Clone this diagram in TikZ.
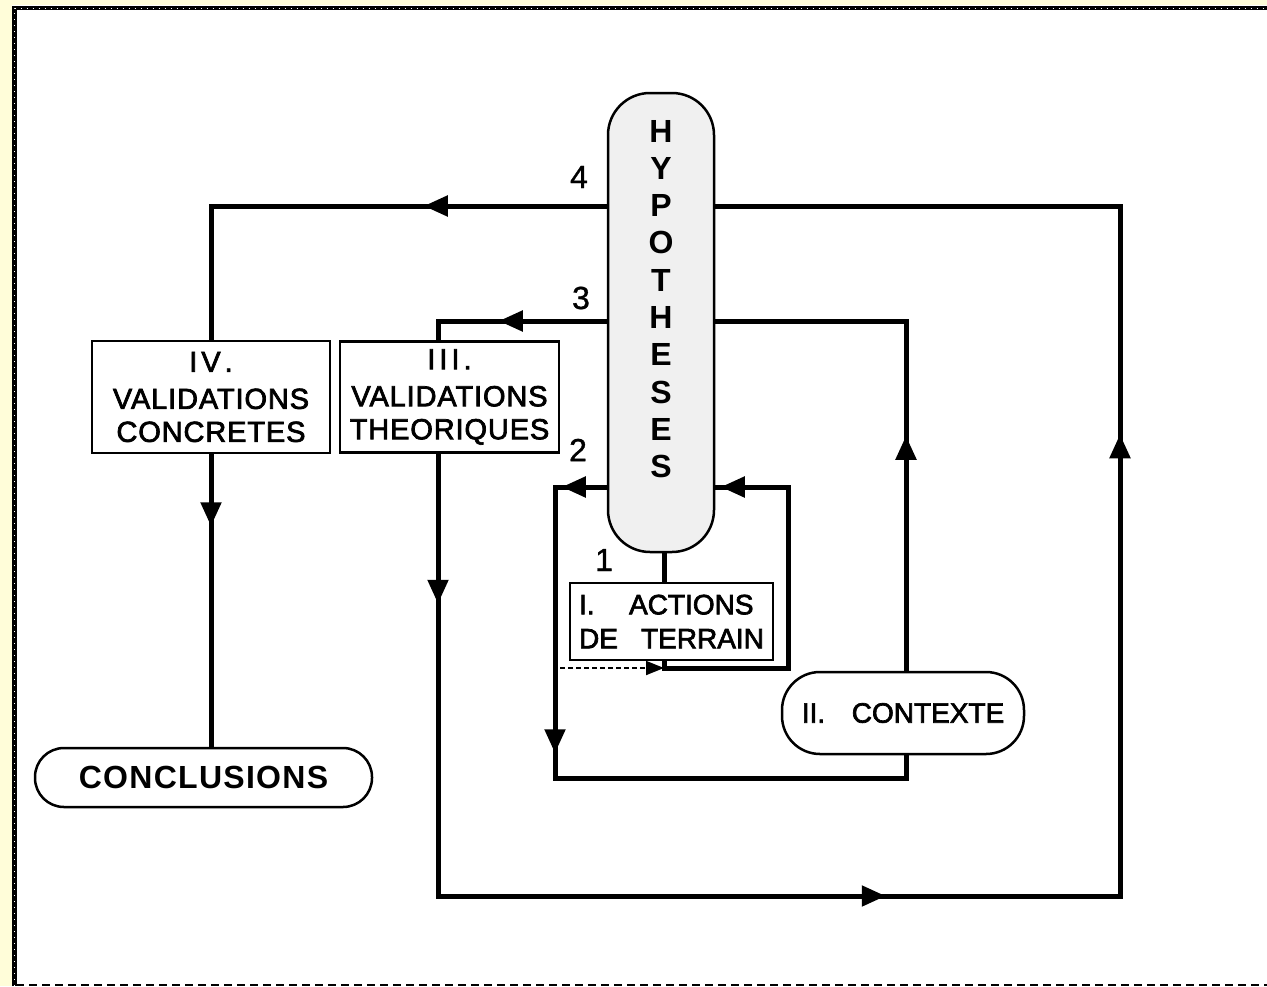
\documentclass[tikz,border=0pt]{standalone}
\usepackage{fontspec}
\setmainfont{Liberation Sans}
\newfontfamily\spacedfam[LetterSpace=3,FakeBold=2.5]{Liberation Sans}
\newfontfamily\plainfam[FakeBold=2.5]{Liberation Sans}
\newfontfamily\numfam[FakeBold=1]{Liberation Sans}
\usetikzlibrary{arrows.meta,decorations.markings}

\tikzset{
  flow/.style={line width=5pt},
  arr/.style={postaction={decorate,decoration={markings,
      mark=at position #1 with {\arrow{Triangle[length=24pt,width=20pt]}}}}},
  stagebox/.style={draw, line width=2.5pt, fill=white, align=center, inner sep=0pt},
  pillbox/.style={stagebox, rounded corners=#1},
  numlbl/.style={font=\numfam\fontsize{32}{32}\selectfont, inner sep=0pt},
}

\begin{document}
\begin{tikzpicture}[x=1pt,y=-1pt]
\useasboundingbox (0,0) rectangle (1267,986);
% frame
\fill[yellow!15] (0,0) rectangle (1267,986);
\fill[white] (12,5) rectangle (1267,986);
\draw[line width=4.5pt] (14.5,986) -- (14.5,8) -- (1267,8);
\draw[white, line width=0.8pt, dash pattern=on 1pt off 5pt] (14.5,986) -- (14.5,8) -- (1267,8);
\draw[line width=2pt, dash pattern=on 8pt off 5pt] (16,984.5) -- (1267,984.5);

% nodes
\node[draw, line width=2.5pt, fill=gray!12, rounded corners=42, minimum width=106, minimum height=459] (hyp) at (661,322.5){};
\node[font=\bfseries\fontsize{32}{37.3}\selectfont, align=center, inner sep=0pt] (hyplbl) at (661,299){H\\Y\\P\\O\\T\\H\\E\\S\\E\\S};
\node[stagebox, minimum width=238, minimum height=112, font=\spacedfam\fontsize{29}{33}\selectfont] (iv) at (211,397){I\hspace{4pt}V\hspace{4pt}.\\[4pt]VALIDATIONS\\CONCRETES};
\node[stagebox, minimum width=219, minimum height=111, font=\spacedfam\fontsize{29}{33}\selectfont] (iii) at (449.5,397){I\hspace{4pt}I\hspace{4pt}I\hspace{4pt}.\\[4pt]VALIDATIONS\\THEORIQUES};
\node[stagebox, align=left, minimum width=203, minimum height=77, font=\plainfam\fontsize{28}{34}\selectfont] (act) at (671.5,621.5){\makebox[50pt][l]{I.}ACTIONS\\\makebox[62pt][l]{DE}TERRAIN};
\node[pillbox=38, minimum width=242, minimum height=82, font=\plainfam\fontsize{28}{34}\selectfont] (ctx) at (903,713){\makebox[50pt][l]{II.}CONTEXTE};
\node[pillbox=29, minimum width=337, minimum height=59, font=\bfseries\fontsize{32}{32}\selectfont\addfontfeature{LetterSpace=4}] (concl) at (203.5,777.5){CONCLUSIONS};
\node[numlbl] (n4) at (579,177){4};
\node[numlbl] (n3) at (581,298){3};
\node[numlbl] (n2) at (578,450){2};
\node[numlbl] (n1) at (604,560){1};

% corners
\coordinate (k4a) at (211,206);
\coordinate (k4b) at (1120,206);
\coordinate (k4c) at (1120,896);
\coordinate (k4d) at (438,896);
\coordinate (k3a) at (438,321);
\coordinate (k3b) at (906,321);
\coordinate (k2a) at (555,487);
\coordinate (k2b) at (555,778);
\coordinate (k2c) at (906,778);
\coordinate (k1a) at (664,668);
\coordinate (k1b) at (788,668);
\coordinate (k1c) at (788,487);
\coordinate (dsh) at (560,668);

% loops
\draw[flow, arr=183pt] (hyp.west |- k4a) -- (k4a) -- (iv.north);
\draw[flow, arr=72pt] (iv.south) -- (iv.south |- concl.north);
\draw[flow, arr=150pt, arr=890pt, arr=1586pt] (k3a |- iii.south) -- (k4d) -- (k4c) -- (k4b) -- (hyp.east |- k4b);
\draw[flow, arr=108pt] (hyp.west |- k3a) -- (k3a) -- (k3a |- iii.north);
\draw[flow, arr=235pt] (k3b |- ctx.north) -- (k3b) -- (hyp.east |- k3b);
\draw[flow, arr=45pt, arr=318pt] (hyp.west |- k2a) -- (k2a) -- (k2b) -- (k2c) -- (k2c |- ctx.south);
\draw[flow] (k1a |- hyp.south) -- (k1a |- act.north);
\draw[flow, arr=379pt] (act.south -| k1a) -- (k1a) -- (k1b) -- (k1c) -- (hyp.east |- k1c);
\draw[line width=1.8pt, dash pattern=on 5pt off 3pt, -{Triangle[length=18pt,width=14pt]}] (dsh) -- (k1a);

\end{tikzpicture}
\end{document}
